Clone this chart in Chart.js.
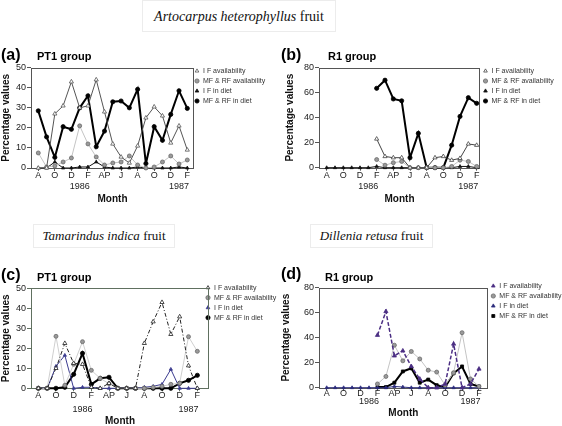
<!DOCTYPE html>
<html><head><meta charset="utf-8">
<script src="https://cdn.jsdelivr.net/npm/chart.js@4.4.1/dist/chart.umd.min.js"></script>
<style>
html,body{margin:0;padding:0;background:#fff;width:562px;height:426px;overflow:hidden;position:relative;font-family:"Liberation Sans",Arial,sans-serif;}
canvas{position:absolute;}
.species{position:absolute;border:1px solid #ececec;font-family:"Liberation Serif","Times New Roman",serif;font-size:14px;color:#111;text-align:center;white-space:nowrap;box-sizing:border-box;}
.plab{position:absolute;font-weight:bold;font-size:16px;line-height:18px;color:#000;z-index:2;}
.grp{position:absolute;font-weight:bold;font-size:11px;line-height:13px;color:#000;z-index:2;}
</style></head><body>
<div class="species" style="left:142px;top:0;width:194px;height:32px;line-height:32px;"><i>Artocarpus heterophyllus</i> fruit</div>
<div class="species" style="left:33px;top:224px;width:142px;height:24px;line-height:22px;font-size:13px;"><i>Tamarindus indica</i> fruit</div>
<div class="species" style="left:310px;top:224px;width:123px;height:24px;line-height:22px;font-size:13px;"><i>Dillenia retusa</i> fruit</div>
<div class="plab" style="left:1px;top:46px;">(a)</div><div class="grp" style="left:37px;top:50px;">PT1 group</div>
<div class="plab" style="left:281px;top:46px;">(b)</div><div class="grp" style="left:328px;top:50px;">R1 group</div>
<div class="plab" style="left:1px;top:266px;">(c)</div><div class="grp" style="left:37px;top:271px;">PT1 group</div>
<div class="plab" style="left:281px;top:265px;">(d)</div><div class="grp" style="left:325px;top:271px;">R1 group</div>
<canvas id="pa"></canvas><canvas id="pb"></canvas><canvas id="pc"></canvas><canvas id="pd"></canvas>
<script>
// ---- categories & tick labels ----
const monthLabels = ['A','','O','','D','','F','','AP','','J','','A','','O','','D','','F'];
const yearLabels  = ['','','','','','1986','','','','','','','','','','','','1987',''];
const seriesNames = ['I F availability','MF & RF availability','I F in diet','MF & RF in diet'];
const yTicks50 = [0,10,20,30,40,50];
const yTicks80 = [0,20,40,60,80];

// ---- (a) Artocarpus, PT1 group ----
const aIFavail = [0,0,27,31,43,30,31,44,28,12,5.5,2.5,11,25,30.5,26,12.5,21,9];
const aMFavail = [7.5,0.5,1,3,5,21,12,5.5,1.5,2.5,3,6,1.5,0,0.5,3,6,2,4];
const aIFdiet  = [0,0,3,0,0,0.5,0.5,3,0.5,0,0,0,0.5,0,0,0,0,0.5,0];
const aMFdiet  = [28.5,15.5,5.3,20.6,19.3,30,36,10.6,18.4,33,33.4,30,39.2,2.2,20.6,13.8,26.7,38.5,29.7];

// ---- (b) Artocarpus, R1 group ----
const bIFavail = [null,null,null,null,null,null,23,9,8,8,0,0,0,8,9,6,7.5,19,18];
const bMFavail = [null,null,null,null,null,null,6.5,2,4,5,0,0,0,0,0,1,6,5,1];
const bIFdiet  = [0,0,0,0,0,0,1,0,0,0,0,0,0,0,0,0,1,1,0];
const bMFdiet  = [null,null,null,null,null,null,63.5,70,55,53.5,8,27.5,0,0,0,18,41,56,51.5];

// ---- (c) Tamarindus, PT1 group ----
const cIFavail = [0,0,10,22.5,12.5,12,0.5,0,2.5,0,0,0,22.5,33.3,43,27,35.8,11.3,0];
const cMFavail = [0,0,26,1.5,12,23.3,9,5,2.3,0,0,0,0,0.5,1,2,2.5,25.8,18.5];
const cIFdiet  = [0,0,11,16.5,0,0.5,0.5,0,0,0,0,0,0.5,1,2,9.5,0,0,0];
const cMFdiet  = [0,0,0,0.5,7,17.5,2,5,5.5,0,0,0,0,0,0,0,2.5,4,6.5];

// ---- (d) Dillenia, R1 group ----
const dIFavail = [null,null,null,null,null,null,42,61,25.5,29.5,17,7,0,0,3,35,0,3,15];
const dMFavail = [null,null,null,null,null,null,3,9,34,21.5,29,23,14,12.5,2,12,44,7,1];
const dIFdiet  = [0,0,0,0,0,0,0,0,1,0.5,0,0,0,0,0,0,0,0,0];
const dMFdiet  = [null,null,null,null,null,null,0.5,0.5,4,13,15.5,4,6.5,2,0.5,11.5,17,3,1];

const FONT = '"Liberation Sans", Arial, sans-serif';
Chart.defaults.font.family = FONT;
const LEG_BOX = 5, LEG_PAD = 3, LEG_FS = 7;

function styleSet(o) {
  return [
    {borderColor:o.ifaColor, borderWidth:o.ifaWidth||1, borderDash:o.ifaDash||[], pointStyle:'triangle', pointRadius:2.4,
     pointBackgroundColor:o.ifaFill, pointBorderColor:o.ifaColor, pointBorderWidth:0.8},
    {borderColor:o.mfaLine||'#c4c4c4', borderWidth:1, pointStyle:'circle', pointRadius:2,
     pointBackgroundColor:'#9a9a9a', pointBorderColor:'#6a6a6a', pointBorderWidth:0.8},
    {borderColor:o.ifdColor, borderWidth:1, pointStyle:'triangle', pointRadius:1.9,
     pointBackgroundColor:o.ifdColor, pointBorderColor:o.ifdColor, pointBorderWidth:0.8},
    {borderColor:'#000', borderWidth:2, pointStyle:o.mfdStyle||'circle', pointRadius:2.1,
     pointBackgroundColor:'#000', pointBorderColor:'#000', pointBorderWidth:0.8}
  ];
}

function buildPanel(id, g, series, styles, yTicks) {
  const cv = document.getElementById(id);
  cv.width = g.cw; cv.height = g.ch;
  cv.style.left = g.cl + 'px'; cv.style.top = g.ct + 'px';
  const datasets = series.map((vals, k) => Object.assign({
    label: seriesNames[k], data: vals, fill:false, tension:0, clip:false
  }, styles[k]));
  const helper = {
    id: 'helper' + id,
    afterLayout(chart) {
      const lg = chart.legend; if (!lg) return;
      const w = lg.width, h = lg.height;
      lg.left = g.legX - g.cl - LEG_BOX / 2 - LEG_PAD;
      lg.top = g.legY - g.ct - LEG_FS / 2 - LEG_PAD;
      lg.right = lg.left + w; lg.bottom = lg.top + h;
    },
    beforeDatasetsDraw(chart) {
      const {ctx, chartArea:a} = chart;
      ctx.save();
      ctx.strokeStyle = g.frame; ctx.lineWidth = 1;
      const l = Math.round(a.left) + 0.5, t = Math.round(a.top) + 0.5;
      const r = Math.round(a.right) - 0.5, b = Math.round(a.bottom) + 0.5;
      ctx.strokeRect(l, t, r - l, b - t);
      ctx.restore();
    }
  };
  new Chart(cv, {
    type: 'line',
    data: { labels: monthLabels.map((_, i) => i), datasets },
    plugins: [helper],
    options: {
      responsive:false, animation:false, devicePixelRatio:1,
      layout: { padding: { left:0, top:g.T - g.ct, right:g.cl + g.cw - g.R, bottom:g.ct + g.ch - (g.monthY + 6) } },
      plugins: {
        tooltip:{enabled:false},
        legend: {
          position:'chartArea', align:'start',
          labels: { usePointStyle:true, boxWidth:LEG_BOX, boxHeight:3, padding:LEG_PAD, color:'#333',
                    font:{size:LEG_FS, family:FONT} }
        }
      },
      scales: {
        x: {
          type:'linear', min:g.xmin, max:g.xmax,
          afterBuildTicks: s => { s.ticks = monthLabels.map((_, i) => ({value:i})); },
          afterFit: s => { s.height = g.monthY + 6 - g.B; },
          grid: { display:true, drawOnChartArea:false, drawTicks:true, tickLength:3,
                  tickColor: c => (c.index % 2 === 0 ? g.frame : 'rgba(0,0,0,0)') },
          border: { display:false },
          ticks: { autoSkip:false, maxRotation:0, minRotation:0, padding:g.xPad, color:'#222',
                   font:{size:9, family:FONT, lineHeight:g.xLH + 'px'},
                   callback: v => (yearLabels[v] ? [monthLabels[v], yearLabels[v]] : monthLabels[v]) },
          title: { display:true, text:'Month', color:'#111', font:{size:10, weight:'bold', family:FONT},
                   padding:{top:0, bottom:0} }
        },
        y: {
          min:0, max:yTicks[yTicks.length - 1],
          afterBuildTicks: s => { s.ticks = yTicks.map(v => ({value:v})); },
          afterFit: s => { s.width = g.L - g.cl; },
          grid: { display:true, drawOnChartArea:false, drawTicks:true, tickLength:4, tickColor:g.frame },
          border: { display:false },
          ticks: { padding:1, color:'#222', font:{size:9, family:FONT} },
          title: { display:true, text:'Percentage values', color:'#111', font:{size:10, weight:'bold', family:FONT},
                   padding:{top:g.yTitleX - g.cl - 6, bottom:0} }
        }
      }
    }
  });
}

buildPanel('pa',
  {cl:0, ct:40, cw:280, ch:172, L:31, R:194, T:67.7, B:168, monthY:199, yTitleX:6.5,
   xmin:-0.88, xmax:18.81, xPad:-1, xLH:11, legX:197, legY:71, frame:'#555'},
  [aIFavail, aMFavail, aIFdiet, aMFdiet],
  styleSet({ifaColor:'#555', ifaFill:'#fff', ifdColor:'#111'}), yTicks50);

buildPanel('pb',
  {cl:280, ct:40, cw:282, ch:172, L:319, R:480, T:67.7, B:167.7, monthY:199, yTitleX:290,
   xmin:-0.92, xmax:18.4, xPad:-1, xLH:11, legX:485.5, legY:71, frame:'#555'},
  [bIFavail, bMFavail, bIFdiet, bMFdiet],
  styleSet({ifaColor:'#444', ifaFill:'#fff', ifdColor:'#111'}), yTicks80);

buildPanel('pc',
  {cl:0, ct:262, cw:280, ch:164, L:31, R:209, T:288.3, B:388.3, monthY:421.7, yTitleX:6.7,
   xmin:-0.83, xmax:19.32, xPad:-3, xLH:14, legX:208, legY:287.7, frame:'#607060'},
  [cIFavail, cMFavail, cIFdiet, cMFdiet],
  styleSet({ifaColor:'#222', ifaFill:'#fff', ifaDash:[4,2,1,2], ifdColor:'#3b3b8f', mfaLine:'#cfcfcf'}), yTicks50);

buildPanel('pd',
  {cl:280, ct:262, cw:282, ch:164, L:319, R:487.7, T:287.7, B:387.7, monthY:413, yTitleX:286.7,
   xmin:-0.91, xmax:19.03, xPad:-1, xLH:8, legX:493.3, legY:286, frame:'#555'},
  [dIFavail, dMFavail, dIFdiet, dMFdiet],
  styleSet({ifaColor:'#4b2e83', ifaFill:'#4b2e83', ifaWidth:1.5, ifaDash:[4,2], ifdColor:'#2c2c7c', mfdStyle:'rect'}), yTicks80);
</script>
</body></html>
